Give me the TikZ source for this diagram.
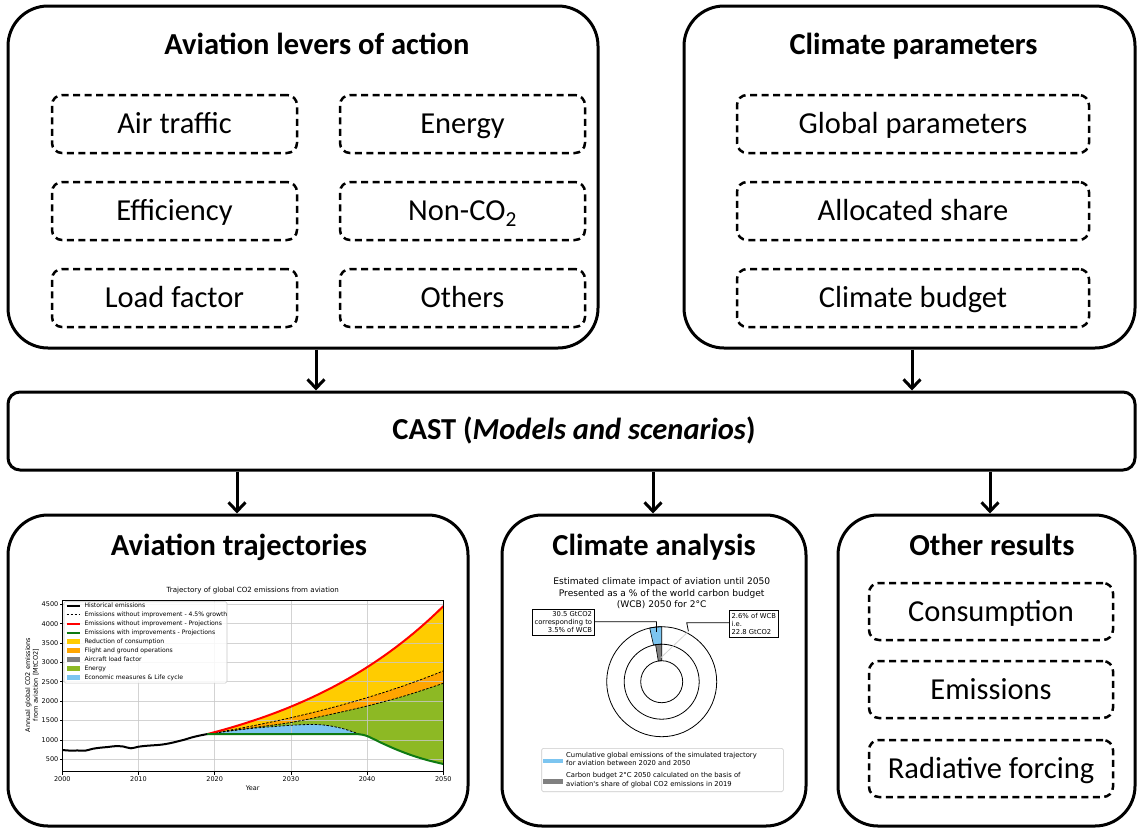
\documentclass[tikz,border=0pt]{standalone}
\usepackage{fontspec}
\setmainfont{Carlito}
\newfontfamily\plotfont{DejaVu Sans}
\usetikzlibrary{arrows.meta}
\definecolor{cyel}{HTML}{FFCC00}
\definecolor{corg}{HTML}{FFA500}
\definecolor{cgrn}{HTML}{8DB924}
\definecolor{cblu}{HTML}{7CC5F0}
\definecolor{cgl}{HTML}{0E7A12}
\definecolor{cgry}{HTML}{808080}
\definecolor{cgrid}{HTML}{C8C8C8}
\begin{document}
\begin{tikzpicture}[x=1pt,y=-1pt,
  bigbox/.style={draw, line width=3pt, rounded corners=40pt, inner sep=0pt},
  castbox/.style={draw, line width=3pt, rounded corners=12pt, inner sep=0pt},
  dbox/.style={draw, line width=2.5pt, dash pattern=on 7pt off 4.5pt, rounded corners=10pt,
    minimum height=58pt, inner sep=0pt, text height=19.6pt, text depth=0pt,
    font=\fontsize{30.5}{36}\selectfont},
  ttl/.style={inner sep=0pt, text height=19.6pt, text depth=0pt, font=\fontsize{30.5}{36}\selectfont\bfseries},
  arr/.style={line width=3pt, -{Straight Barb[length=9pt,width=17pt,line width=3pt]}},
  pf/.style={font=\plotfont\fontsize{6.5}{7.6}\selectfont},
  lg/.style={font=\plotfont\fontsize{6.1}{7}\selectfont, anchor=west, inner sep=0pt},
  pl/.style={font=\plotfont\fontsize{6.8}{8.3}\selectfont},
]
\useasboundingbox (0,0) rectangle (1137,830);

% ---------- top boxes ----------
\node[bigbox, minimum width=590pt, minimum height=342pt] (lev) at (303,177) {};
\node[ttl] (levt) at (317,45) {Aviation levers of action};
\node[dbox, minimum width=245pt] (air) at (174.5,124) {Air traffic};
\node[dbox, minimum width=245pt] (eff) at (174.5,211) {Efficiency};
\node[dbox, minimum width=245pt] (load) at (174.5,298) {Load factor};
\node[dbox, minimum width=245pt] (ener) at (462.5,124) {Energy};
\node[dbox, minimum width=245pt] (nonco) at (462.5,211) {Non-CO\textsubscript{2}};
\node[dbox, minimum width=245pt] (oth) at (462.5,298) {Others};

\node[bigbox, minimum width=451pt, minimum height=342pt] (clim) at (909.5,177) {};
\node[ttl] (climt) at (913.5,45) {Climate parameters};
\node[dbox, minimum width=352pt] (glob) at (913,124) {Global parameters};
\node[dbox, minimum width=352pt] (alloc) at (913,211) {Allocated share};
\node[dbox, minimum width=352pt] (budg) at (913,298) {Climate budget};

% ---------- CAST ----------
\node[castbox, minimum width=1127pt, minimum height=78pt] (cast) at (571.5,431) {};
\node[ttl] (castt) at (574,430) {CAST (\textit{Models and scenarios})};

\draw[arr] ([xshift=13pt]lev.south) -- ([xshift=13pt]lev.south |- cast.north);
\draw[arr] ([xshift=2.5pt]clim.south) -- ([xshift=2.5pt]clim.south |- cast.north);

% ---------- bottom boxes ----------
\node[bigbox, minimum width=460pt, minimum height=311pt] (traj) at (238,670.5) {};
\node[bigbox, minimum width=304pt, minimum height=311pt] (ana) at (654,670.5) {};
\node[bigbox, minimum width=297pt, minimum height=311pt] (res) at (986.5,670.5) {};
\node[ttl] (trajt) at (239,546) {Aviation trajectories};
\node[ttl] (anat) at (654,546) {Climate analysis};
\node[ttl] (rest) at (992,546) {Other results};

\draw[arr] ([xshift=-1pt]traj.north |- cast.south) -- ([xshift=-1pt]traj.north);
\draw[arr] ([xshift=-1pt]ana.north |- cast.south) -- ([xshift=-1pt]ana.north);
\draw[arr] ([xshift=3.5pt]res.north |- cast.south) -- ([xshift=3.5pt]res.north);

\node[dbox, minimum width=244pt, minimum height=57pt] (cons) at (991,611.5) {Consumption};
\node[dbox, minimum width=244pt, minimum height=57pt] (emis) at (991,689.5) {Emissions};
\node[dbox, minimum width=244pt, minimum height=57pt] (rad) at (991,768.5) {Radiative forcing};

% ---------- trajectory chart ----------
\begin{scope}[shift={(62.3,759.3)}, x=7.62pt, y=0.03875pt]
  \fill[cyel] plot[domain=19:50,samples=41] (\x,{1150*exp(0.04366*(\x-19))-500})
    -- plot[smooth] coordinates {(50,-121) (48,-26) (46,93) (44,240) (42,413) (40,601) (39,645) (38,650)} -- (19,650) -- cycle;
  \fill[corg] plot[domain=19:50,samples=41] (\x,{1150*exp(0.02847*(\x-19))-500})
    -- plot[smooth] coordinates {(50,-121) (48,-26) (46,93) (44,240) (42,413) (40,601) (39,645) (38,650)} -- (19,650) -- cycle;
  \fill[cgrn] plot[smooth] coordinates {(19,650) (25,815) (30,950) (35,1150) (40,1375) (45,1640) (50,1960)}
    -- plot[smooth] coordinates {(50,-121) (48,-26) (46,93) (44,240) (42,413) (40,601) (39,645) (38,650)} -- (19,650) -- cycle;
  \fill[cblu] plot[smooth] coordinates {(19,650) (20,686) (25,800) (30,877) (33,900) (35,867) (37,782) (39,650)} -- cycle;
  % grid
  \foreach \t in {0,10,...,50} \draw[cgrid, line width=0.7pt, opacity=0.8] (\t,-320) -- (\t,4093);
  \foreach \v in {0,500,...,4000} \draw[cgrid, line width=0.7pt, opacity=0.8] (0,\v) -- (50,\v);
  % curves
  \draw[black, line width=0.8pt, dash pattern=on 2.5pt off 1.5pt] plot[domain=19:50,samples=41] (\x,{1150*exp(0.02847*(\x-19))-500});
  \draw[black, line width=0.8pt, dash pattern=on 2.5pt off 1.5pt] plot[smooth] coordinates {(19,650) (25,815) (30,950) (35,1150) (40,1375) (45,1640) (50,1960)};
  \draw[black, line width=0.8pt, dash pattern=on 2.5pt off 1.5pt] plot[smooth] coordinates {(19,650) (20,686) (25,800) (30,877) (33,900) (35,867) (37,782) (39,650)};
  \draw[red, line width=2pt] plot[domain=19:50,samples=41] (\x,{1150*exp(0.04366*(\x-19))-500});
  \draw[cgl, line width=2pt] (19,650) -- plot[smooth] coordinates {(38,650) (39,645) (40,601) (42,413) (44,240) (46,93) (48,-26) (50,-121)};
  \draw[black, line width=2pt] plot[smooth] coordinates {(0,240) (1,225) (2,228) (3,222) (4,272) (5,300) (6,318) (7,340) (8,330) (9,284) (10,325) (11,348) (12,362) (13,378) (14,410) (15,455) (16,505) (17,565) (18,612) (19,650)};
  % frame and ticks
  \draw[line width=0.6pt] (0,-320) rectangle (50,4093);
  \foreach \t/\l in {0/2000,10/2010,20/2020,30/2030,40/2040,50/2050} {
    \draw[line width=0.6pt] (\t,-320) -- (\t,-400);
    \node[pf] at (\t,-516) {\l};
  }
  \foreach \v/\l in {0/500,500/1000,1000/1500,1500/2000,2000/2500,2500/3000,3000/3500,3500/4000,4000/4500} {
    \draw[line width=0.6pt] (0,\v) -- (-0.3,\v);
    \node[pf, anchor=east, inner sep=0pt] at (-0.5,\v) {\l};
  }
\end{scope}
\node[font=\plotfont\fontsize{7.1}{8}\selectfont] (ctitle) at (252.7,591) {Trajectory of global CO2 emissions from aviation};
\node[pf] (xlab) at (252.7,788) {Year};
\node[pf, rotate=90, align=center] (ylab) at (32,685) {Annual global CO2 emissions\\from aviation [MtCO2]};
% legend
\node[draw=cgrid, fill=white, fill opacity=0.85, rounded corners=1.5pt, line width=0.6pt, minimum width=163pt, minimum height=81.3pt, inner sep=0pt] (leg) at (145.5,642.4) {};
\draw[black, line width=2pt] (66.7,605.7) -- (80,605.7);
\node[lg] at (84.3,605.7) {Historical emissions};
\draw[black, line width=1.1pt, dash pattern=on 2.5pt off 1.5pt] (66.7,614.7) -- (80,614.7);
\node[lg] at (84.3,614.7) {Emissions without improvement - 4.5\% growth};
\draw[red, line width=2pt] (66.7,623.7) -- (80,623.7);
\node[lg] at (84.3,623.7) {Emissions without improvement - Projections};
\draw[cgl, line width=2pt] (66.7,632.7) -- (80,632.7);
\node[lg] at (84.3,632.7) {Emissions with improvements - Projections};
\fill[cyel] (66.7,639.3) rectangle (80,644.1);
\node[lg] at (84.3,641.7) {Reduction of consumption};
\fill[corg] (66.7,648.3) rectangle (80,653.1);
\node[lg] at (84.3,650.7) {Flight and ground operations};
\fill[cgry] (66.7,657.3) rectangle (80,662.1);
\node[lg] at (84.3,659.7) {Aircraft load factor};
\fill[cgrn] (66.7,666.3) rectangle (80,671.1);
\node[lg] at (84.3,668.7) {Energy};
\fill[cblu] (66.7,675.3) rectangle (80,680.1);
\node[lg] at (84.3,677.7) {Economic measures \& Life cycle};

% ---------- climate analysis pie ----------
\node[font=\plotfont\fontsize{9.1}{11.3}\selectfont, align=center, inner sep=0pt] (ptitle) at (661.7,593.3)
  {Estimated climate impact of aviation until 2050\\Presented as a \% of the world carbon budget\\(WCB) 2050 for 2°C};
\begin{scope}[shift={(661.7,681.7)}, y=1pt]
  \fill[cblu, draw=black, line width=0.6pt] (90:37.5) arc[start angle=90,end angle=102.6,radius=37.5] -- (102.6:55) arc[start angle=102.6,end angle=90,radius=55] -- cycle;
  \fill[cgry, draw=black, line width=0.6pt] (90:21) arc[start angle=90,end angle=99.4,radius=21] -- (99.4:37.5) arc[start angle=99.4,end angle=90,radius=37.5] -- cycle;
  \draw[line width=0.8pt] (0,0) circle[radius=55];
  \draw[line width=0.8pt] (0,0) circle[radius=37.5];
  \draw[line width=0.8pt] (0,0) circle[radius=21];
  \coordinate (bwedge) at (96:50);
  \coordinate (gwedge) at (92:24);
  \coordinate (ringedge) at (62:57);
\end{scope}
\node[pl, draw, line width=0.6pt, align=right, inner sep=2.2pt] (lbox) at (563.3,622) {30.5 GtCO2\\corresponding to\\3.5\% of WCB};
\node[pl, draw, line width=0.6pt, align=left, inner sep=2.2pt] (rbox) at (753.8,623.8) {2.6\% of WCB\\i.e.\\22.8 GtCO2};
\coordinate (lk) at (656.5,621.7);
\coordinate (rk) at (686.7,622.7);
\draw[line width=0.8pt] (lbox.east |- lk) -- (lk) -- (bwedge);
\draw[line width=0.8pt] (rbox.west |- rk) -- (rk) -- (ringedge);
\draw[gray!35, line width=0.8pt] (ringedge) -- (gwedge);
% pie legend
\node[draw=cgrid, line width=0.6pt, rounded corners=1.5pt, minimum width=241.6pt, minimum height=43.4pt, inner sep=0pt] (pleg) at (662.5,770) {};
\fill[cblu] (543.3,758.7) rectangle (562.7,763.3);
\node[pl, anchor=west, align=left, inner sep=0pt] at (566,759.2) {Cumulative global emissions of the simulated trajectory\\for aviation between 2020 and 2050};
\fill[cgry] (543.3,779.3) rectangle (562.7,783.8);
\node[pl, anchor=west, align=left, inner sep=0pt] at (566,780.2) {Carbon budget 2°C 2050 calculated on the basis of\\aviation's share of global CO2 emissions in 2019};
\end{tikzpicture}
\end{document}
